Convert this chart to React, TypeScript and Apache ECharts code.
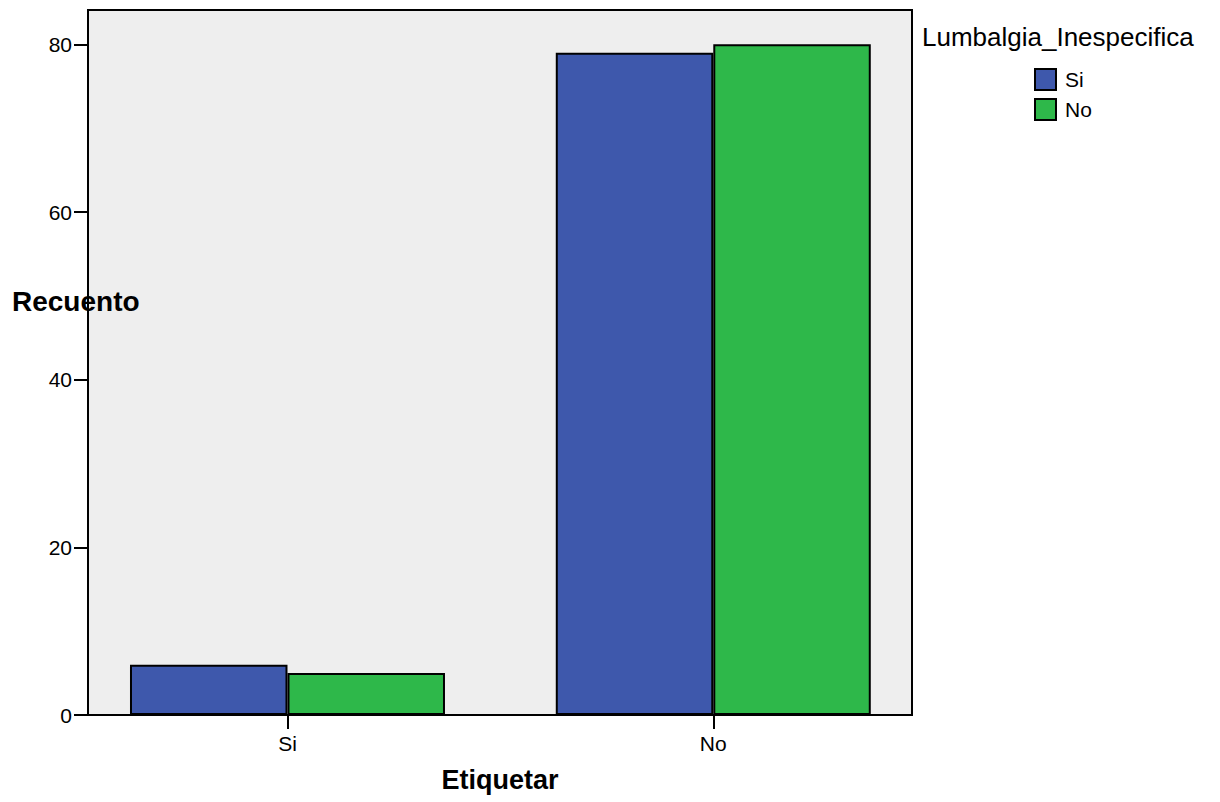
import React, { useEffect, useRef } from "react";
import * as echarts from "echarts";

const categories = ["Si", "No"];
const seriesNames = ["Si", "No"];
const valuesSi = [6, 79];
const valuesNo = [5, 80];
const yTicks = [0, 20, 40, 60, 80];
const colors = ["#3E58AC", "#2EB84A"];

export default function App() {
  const ref = useRef<HTMLDivElement>(null);
  useEffect(() => {
    if (!ref.current) return;
    const chart = echarts.init(ref.current, null, { renderer: "svg" });
    const font = "'Liberation Sans', Arial, sans-serif";
    const catIdx = categories.map((_, i) => i);
    const mk = (vals: number[]) => vals.map((v, i) => [catIdx[i], v]);
    chart.setOption({
      animation: false,
      textStyle: { fontFamily: font },
      grid: {
        left: 88,
        top: 10,
        width: 824,
        height: 705,
        show: true,
        backgroundColor: "#EEEEEE",
        borderColor: "#000",
        borderWidth: 2,
        containLabel: false,
      },
      legend: {
        orient: "vertical",
        left: 1029,
        top: 63,
        itemWidth: 21,
        itemHeight: 21,
        itemGap: 7,
        icon: "rect",
        data: seriesNames,
        textStyle: { fontSize: 21, color: "#000", fontFamily: font, padding: [0, 0, 0, 4] },
        itemStyle: { borderColor: "#000", borderWidth: 2 },
      },
      graphic: [
        {
          type: "text",
          x: 922,
          y: 37,
          style: {
            text: "Lumbalgia_Inespecifica",
            fontSize: 26,
            fill: "#000",
            fontFamily: font,
            textAlign: "left",
            textVerticalAlign: "middle",
          },
        },
        {
          type: "text",
          x: 12,
          y: 301,
          style: {
            text: "Recuento",
            fontSize: 28,
            fontWeight: "bold",
            fill: "#000",
            fontFamily: font,
            textAlign: "left",
            textVerticalAlign: "middle",
          },
        },
      ],
      xAxis: {
        type: "value",
        min: -0.4685,
        max: 1.4667,
        name: "Etiquetar",
        nameLocation: "middle",
        nameGap: 51,
        nameTextStyle: { fontSize: 27, fontWeight: "bold", color: "#000", fontFamily: font },
        splitLine: { show: false },
        axisLine: { show: true, onZero: false, lineStyle: { color: "#000", width: 2 } },
        axisTick: { show: true, length: 14, lineStyle: { color: "#000", width: 2 }, customValues: catIdx },
        axisLabel: {
          customValues: catIdx,
          margin: 18,
          fontSize: 21,
          color: "#000",
          formatter: (v: number) => categories[Math.round(v)] ?? "",
        },
      },
      yAxis: {
        type: "value",
        min: 0,
        max: 84.1,
        interval: 20,
        splitLine: { show: false },
        axisLine: { show: true, onZero: false, lineStyle: { color: "#000", width: 2 } },
        axisTick: { show: true, length: 14, lineStyle: { color: "#000", width: 2 }, customValues: yTicks },
        axisLabel: {
          customValues: yTicks,
          margin: 16,
          fontSize: 21,
          color: "#000",
        },
      },
      series: [
        {
          name: seriesNames[0],
          type: "bar",
          data: mk(valuesSi),
          barWidth: 157.5,
          barGap: "0%",
          itemStyle: { color: colors[0], borderColor: "#000", borderWidth: 2 },
        },
        {
          name: seriesNames[1],
          type: "bar",
          data: mk(valuesNo),
          barWidth: 157.5,
          barGap: "0%",
          itemStyle: { color: colors[1], borderColor: "#000", borderWidth: 2 },
        },
      ],
    });
    return () => chart.dispose();
  }, []);
  return <div ref={ref} style={{ width: 1220, height: 802, position: "absolute", left: 0, top: 0 }} />;
}
